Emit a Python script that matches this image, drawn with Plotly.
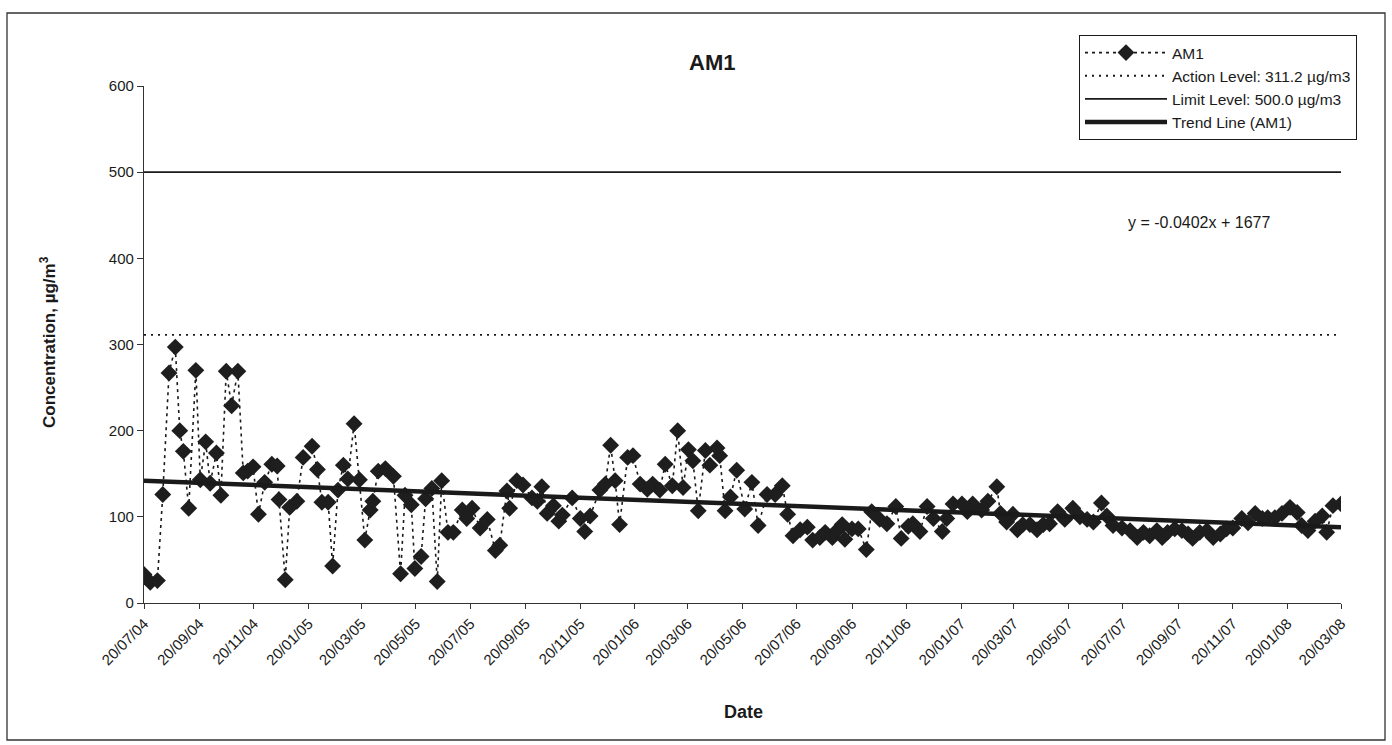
import pandas as pd
import plotly.graph_objects as go

# ---------------- data ----------------
start_date = "2004-07-20"
day_offsets = [0, 7, 15, 21, 28, 35, 40, 44, 50, 58, 63, 69, 74, 81, 86, 92, 98, 105, 111, 116,
               122, 128, 135, 143, 149, 151, 158, 163, 171, 178, 188, 194, 199, 206, 211, 217, 223, 228, 235, 241,
               247, 253, 256, 262, 270, 279, 287, 292, 299, 303, 310, 315, 322, 328, 333, 340, 346, 356, 361, 367,
               376, 384, 393, 398, 406, 409, 417, 424, 434, 440, 445, 451, 458, 464, 468, 479, 488, 493, 499, 510,
               516, 522, 527, 532, 541, 547, 555, 563, 569, 577, 583, 591, 597, 603, 609, 614, 620, 628, 633, 641,
               644, 650, 656, 663, 672, 680, 687, 697, 706, 714, 720, 726, 734, 742, 748, 756, 762, 770, 776, 781,
               784, 792, 799, 808, 814, 823, 831, 841, 847, 855, 860, 868, 876, 883, 893, 898, 905, 915, 921, 927,
               937, 944, 954, 958, 965, 972, 977, 983, 991, 999, 1006, 1013, 1022, 1030, 1039, 1047, 1055, 1062, 1071, 1077,
               1084, 1094, 1103, 1111, 1118, 1125, 1133, 1139, 1145, 1153, 1161, 1168, 1173, 1181, 1189, 1196, 1204, 1211, 1218, 1228,
               1235, 1243, 1251, 1257, 1265, 1273, 1282, 1290, 1295, 1302, 1310, 1318, 1323, 1330, 1339]
am1_values = [33, 24, 26, 126, 267, 297, 200, 176, 110, 270, 143, 187, 139, 174, 125, 269, 229, 269, 151, 153,
              158, 103, 140, 161, 159, 120, 27, 111, 118, 169, 182, 155, 117, 117, 43, 131, 160, 144, 208, 143,
              73, 108, 118, 153, 156, 147, 34, 125, 114, 40, 54, 121, 133, 25, 142, 82, 82, 108, 98, 110,
              87, 97, 61, 67, 130, 110, 142, 137, 122, 118, 135, 104, 113, 95, 102, 122, 98, 83, 101, 131,
              138, 183, 142, 91, 169, 171, 138, 132, 138, 131, 161, 136, 200, 134, 178, 165, 107, 177, 160, 180,
              171, 107, 123, 154, 109, 140, 90, 126, 126, 136, 103, 78, 85, 88, 73, 76, 82, 76, 85, 91,
              74, 86, 86, 62, 106, 97, 92, 112, 75, 89, 92, 83, 112, 98, 83, 98, 115, 115, 106, 115,
              108, 118, 135, 104, 94, 103, 85, 91, 91, 85, 91, 92, 106, 97, 110, 100, 97, 94, 116, 101,
              90, 87, 84, 76, 82, 78, 84, 76, 82, 86, 84, 80, 75, 82, 84, 76, 80, 86, 87, 98,
              93, 104, 98, 99, 99, 104, 111, 105, 90, 84, 95, 101, 82, 113, 115]

action_level = 311.2
limit_level = 500.0
trend_slope = -0.0402
trend_intercept = 1677
trend_label = "y = -0.0402x + 1677"

tick_dates = ["2004-07-20", "2004-09-20", "2004-11-20", "2005-01-20", "2005-03-20", "2005-05-20",
              "2005-07-20", "2005-09-20", "2005-11-20", "2006-01-20", "2006-03-20", "2006-05-20",
              "2006-07-20", "2006-09-20", "2006-11-20", "2007-01-20", "2007-03-20", "2007-05-20",
              "2007-07-20", "2007-09-20", "2007-11-20", "2008-01-20", "2008-03-20"]
tick_labels = ["20/07/04", "20/09/04", "20/11/04", "20/01/05", "20/03/05", "20/05/05",
               "20/07/05", "20/09/05", "20/11/05", "20/01/06", "20/03/06", "20/05/06",
               "20/07/06", "20/09/06", "20/11/06", "20/01/07", "20/03/07", "20/05/07",
               "20/07/07", "20/09/07", "20/11/07", "20/01/08", "20/03/08"]
y_ticks = [0, 100, 200, 300, 400, 500, 600]

# ---------------- derived ----------------
dates = pd.Timestamp(start_date) + pd.to_timedelta(day_offsets, unit="D")
x_first, x_last = dates[0], dates[-1]
excel_epoch = pd.Timestamp("1899-12-30")
trend_x = [x_first, x_last]
trend_y = [trend_slope * (d - excel_epoch).days + trend_intercept for d in trend_x]

FONT = "Arial, 'Liberation Sans', sans-serif"
INK = "#1a1a1a"

fig = go.Figure()
fig.add_trace(go.Scatter(x=[x_first, x_last], y=[action_level, action_level], mode="lines",
                         name="Action Level: 311.2 µg/m3", legendrank=2,
                         line=dict(color=INK, width=1.8, dash="2px,5px")))
fig.add_trace(go.Scatter(x=[x_first, x_last], y=[limit_level, limit_level], mode="lines",
                         name="Limit Level: 500.0 µg/m3", legendrank=3,
                         line=dict(color=INK, width=1.8)))
fig.add_trace(go.Scatter(x=dates, y=am1_values, mode="lines+markers", name="AM1", legendrank=1,
                         line=dict(color=INK, width=1.6, dash="3px,4px"),
                         marker=dict(symbol="diamond", size=13, color="#1e1e1e")))
fig.add_trace(go.Scatter(x=trend_x, y=trend_y, mode="lines", name="Trend Line (AM1)", legendrank=4,
                         line=dict(color=INK, width=4.5)))

# plot area: x 144..1341, y 86..603 in a 1392x745 page
L, R, T, B = 144, 1341, 86, 603
W, H = R - L, B - T

def px_x(p):
    return (p - L) / W

def px_y(p):
    return (B - p) / H

fig.update_layout(
    width=1392, height=745,
    margin=dict(l=L, r=1392 - R, t=T, b=745 - B),
    paper_bgcolor="white", plot_bgcolor="white",
    font=dict(family=FONT, color=INK),
    showlegend=True,
    legend=dict(x=px_x(1079), y=px_y(35), xanchor="left", yanchor="top",
                bordercolor=INK, borderwidth=1, bgcolor="white",
                font=dict(size=15.5, family=FONT, color=INK), itemwidth=82,
                tracegroupgap=0),
    xaxis=dict(type="date", range=[x_first, x_last], tickmode="array",
               tickvals=tick_dates, ticktext=tick_labels, tickangle=-45,
               tickfont=dict(size=15, family=FONT, color=INK),
               showgrid=False, zeroline=False, showline=True, linecolor="#333", linewidth=1.3,
               ticks="outside", ticklen=5, tickcolor="#333"),
    yaxis=dict(range=[0, 600], tickmode="array", tickvals=y_ticks,
               tickfont=dict(size=15, family=FONT, color=INK),
               showgrid=False, zeroline=False, showline=True, linecolor="#333", linewidth=1.3,
               ticks="outside", ticklen=6, tickcolor="#333"),
    shapes=[dict(type="rect", xref="paper", yref="paper",
                 x0=px_x(7), x1=px_x(1385), y0=px_y(740), y1=px_y(13),
                 line=dict(color="#333", width=1.3), fillcolor="rgba(0,0,0,0)", layer="below")],
    annotations=[
        dict(text="<b>AM1</b>", xref="paper", yref="paper", x=px_x(712), y=px_y(62),
             xanchor="center", yanchor="middle", showarrow=False, font=dict(size=22, family=FONT, color=INK)),
        dict(text="<b>Concentration, µg/m<sup>3</sup></b>", xref="paper", yref="paper",
             x=px_x(48), y=px_y(342), xanchor="center", yanchor="middle", textangle=-90,
             showarrow=False, font=dict(size=17, family=FONT, color=INK)),
        dict(text="<b>Date</b>", xref="paper", yref="paper", x=px_x(743), y=px_y(712),
             xanchor="center", yanchor="middle", showarrow=False, font=dict(size=18, family=FONT, color=INK)),
        dict(text=trend_label, xref="paper", yref="paper", x=px_x(1199), y=px_y(222),
             xanchor="center", yanchor="middle", showarrow=False, font=dict(size=16, family=FONT, color=INK)),
    ],
)

fig.write_html("out.html")
